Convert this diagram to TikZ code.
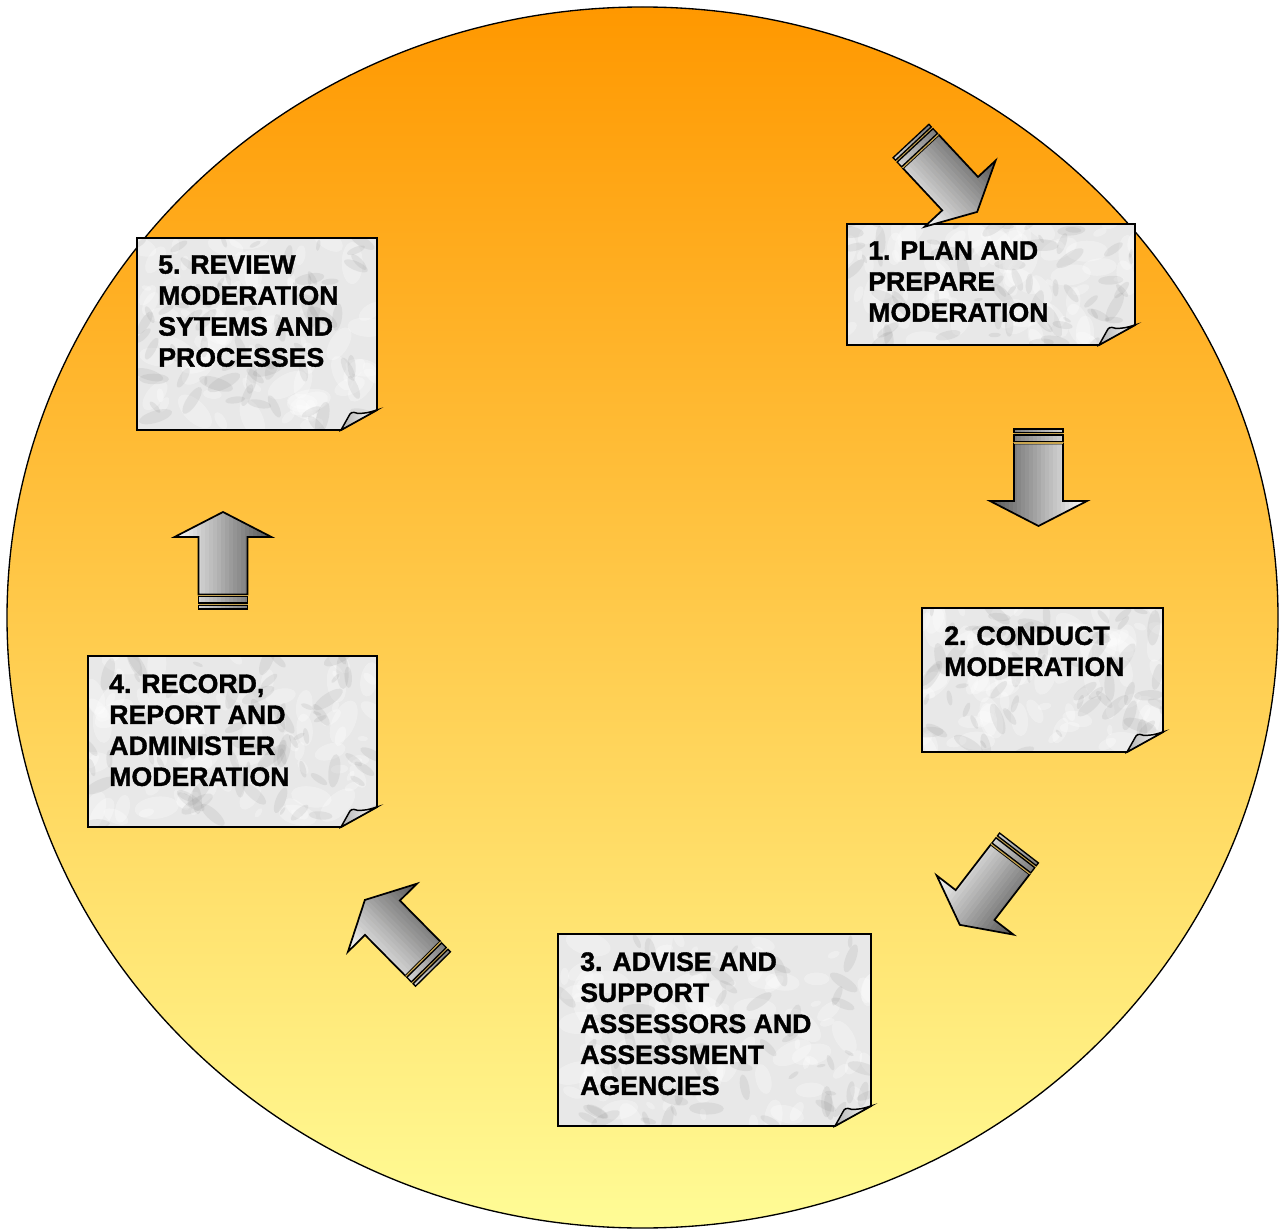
\documentclass[tikz,border=0pt]{standalone}
\usepackage{fontspec}
\setmainfont{Liberation Sans}
\newfontfamily\heavyfont{Liberation Sans Bold}[FakeBold=1.3]
\usetikzlibrary{calc}
\definecolor{bgtop}{RGB}{255,152,0}
\definecolor{bgmid}{RGB}{252,198,100}
\definecolor{bgbot}{RGB}{255,252,150}
\definecolor{arrdark}{RGB}{85,85,85}
\definecolor{arrlight}{RGB}{252,252,252}
\definecolor{stripegold}{RGB}{200,165,80}
\definecolor{paperbase}{RGB}{232,232,232}
\tikzset{
  lbl/.style={font=\fontsize{20}{23.25}\selectfont\heavyfont, align=left, inner sep=0pt, anchor=north west},
  boxline/.style={draw=black, line width=1.4pt, line join=miter},
  arrline/.style={draw=black, line width=1.3pt, line join=miter},
}
% paper box with folded corner: x1,y1,x2,y2
\newcommand\paperbox[4]{%
  \begin{scope}
    \clip (#1,#2) -- (#3,#2) -- (#3,#4-20) -- (#3-36,#4) -- (#1,#4) -- cycle;
    \fill[paperbase] (#1,#2) rectangle (#3,#4);
    \foreach \k in {1,...,80}{
      \pgfmathsetmacro\px{#1+rnd*(#3-#1)}
      \pgfmathsetmacro\py{#2+rnd*(#4-#2)}
      \pgfmathsetmacro\pr{5+rnd*18}
      \pgfmathsetmacro\pa{rnd*180}
      \fill[white, opacity=0.3, rotate around={\pa:(\px,\py)}] (\px,\py) ellipse [x radius=\pr, y radius=\pr*0.5];
    }
    \foreach \k in {1,...,70}{
      \pgfmathsetmacro\px{#1+rnd*(#3-#1)}
      \pgfmathsetmacro\py{#2+rnd*(#4-#2)}
      \pgfmathsetmacro\pr{4+rnd*14}
      \pgfmathsetmacro\pa{rnd*180}
      \fill[gray, opacity=0.13, rotate around={\pa:(\px,\py)}] (\px,\py) ellipse [x radius=\pr, y radius=\pr*0.35];
    }
  \end{scope}
  \draw[boxline] (#1,#2) -- (#3,#2) -- (#3,#4-20) -- (#3-36,#4) -- (#1,#4) -- cycle;
  \shade[left color=gray!60, right color=white, draw=black, line width=1.1pt]
    (#3-36,#4) .. controls (#3-31,#4-8) .. (#3-27,#4-16)
    .. controls (#3-25,#4-19) and (#3-21,#4-17) .. (#3-19,#4-16.5)
    .. controls (#3-10,#4-17) .. (#3,#4-20) -- cycle;
}
% cross gradient strips in the local arrow frame; #1 colour at -y, #2 colour at +y
\newcommand\crossstrips[2]{%
  \foreach \i in {0,...,24}{
    \pgfmathtruncatemacro\pc{\i*100/24}
    \fill[#2!\pc!#1] (-2,{-50+\i*4}) rectangle (100,{-50+(\i+1)*4+0.4});
  }
}
% block arrow: tail x, tail y, canvas angle, colour at local -y, colour at local +y
\newcommand\blockarrow[5]{%
  \begin{scope}[shift={(#1,#2)}, rotate=#3]
    \begin{scope}
      \clip (14.5,-24.5) -- (72,-24.5) -- (72,-48.5) -- (97,0) -- (72,48.5) -- (72,24.5) -- (14.5,24.5) -- cycle;
      \crossstrips{#4}{#5}
    \end{scope}
    \draw[arrline] (14.5,-24.5) -- (72,-24.5) -- (72,-48.5) -- (97,0) -- (72,48.5) -- (72,24.5) -- (14.5,24.5) -- cycle;
    \fill[stripegold] (3.5,-24.5) rectangle (14.5,24.5);
    \begin{scope}
      \clip (6,-24.5) rectangle (12.5,24.5) (0,-24.5) rectangle (3.5,24.5);
      \crossstrips{#4}{#5}
    \end{scope}
    \draw[black, line width=1pt] (6,-24.5) rectangle (12.5,24.5);
    \draw[black, line width=1pt] (0,-24.5) rectangle (3.5,24.5);
  \end{scope}
}
\begin{document}
\begin{tikzpicture}[x=0.75pt, y=-0.75pt]
\useasboundingbox (0,0) rectangle (1285,1230);
\fill[white] (0,0) rectangle (1285,1230);
\shade[top color=bgtop, middle color=bgmid, bottom color=bgbot, draw=black, line width=1pt]
  (642.5,617.5) ellipse [x radius=635.5, y radius=610.5];
\pgfmathsetseed{11}
% boxes
\paperbox{847}{224}{1135}{345}
\paperbox{922}{608}{1163}{752}
\paperbox{558}{934}{871}{1126}
\paperbox{88}{656}{377}{827}
\paperbox{137}{238}{377}{430}
\node[lbl] (t1) at (868,241) {1. PLAN AND\\PREPARE\\MODERATION};
\node[lbl] (t2) at (944,626) {2. CONDUCT\\MODERATION};
\node[lbl] (t3) at (580,952) {3. ADVISE AND\\SUPPORT\\ASSESSORS AND\\ASSESSMENT\\AGENCIES};
\node[lbl] (t4) at (109,674) {4. RECORD,\\REPORT AND\\ADMINISTER\\MODERATION};
\node[lbl] (t5) at (158,255) {5. REVIEW\\MODERATION\\SYTEMS AND\\PROCESSES};
% arrows
\blockarrow{911}{141}{-47}{arrdark}{arrlight}
\blockarrow{1038.5}{429}{-90}{arrlight}{arrdark}
\blockarrow{1019}{848}{-127.6}{arrdark}{arrlight}
\blockarrow{433}{969}{134.6}{arrlight}{arrdark}
\blockarrow{223}{609}{90}{arrlight}{arrdark}
\end{tikzpicture}
\end{document}
